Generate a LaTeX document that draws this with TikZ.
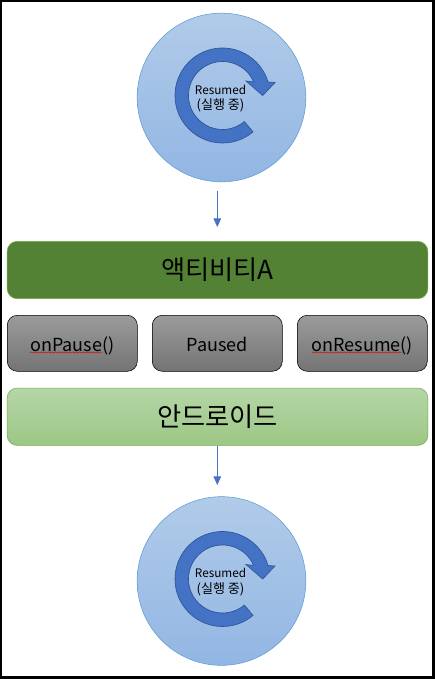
\documentclass[tikz,border=0pt]{standalone}
\usepackage{fontspec}
\setmainfont{Noto Sans CJK KR}
\usetikzlibrary{arrows.meta,decorations.pathmorphing}
\definecolor{skytop}{HTML}{B1CBE9}
\definecolor{skybot}{HTML}{92B6E3}
\definecolor{skyline}{HTML}{5B9BD5}
\definecolor{cyclefill}{HTML}{4472C4}
\definecolor{cycleline}{HTML}{2F5597}
\definecolor{actfill}{HTML}{548235}
\definecolor{droidtop}{HTML}{B5D6A7}
\definecolor{droidbot}{HTML}{9CC785}
\definecolor{droidline}{HTML}{70AD47}
\definecolor{greytop}{HTML}{9B9B9B}
\definecolor{greybot}{HTML}{747474}
\tikzset{
  stateball/.style={circle,draw=skyline,top color=skytop,bottom color=skybot,minimum size=126.5pt,inner sep=0pt},
  statetext/.style={align=center,inner sep=0pt,font=\fontsize{8.8pt}{11.6pt}\selectfont},
  cyclearrow/.style={fill=cyclefill,draw=cycleline,line width=.5pt},
  flow/.style={draw=cyclefill,line width=.75pt,-{Triangle[length=6.4pt,width=5.6pt]}},
  layerbox/.style={rounded corners=7.5pt,minimum width=315.5pt,minimum height=43pt,inner sep=0pt,font=\fontsize{19.7pt}{21pt}\selectfont},
  callbox/.style={rounded corners=7.5pt,draw=black,top color=greytop,bottom color=greybot,minimum width=97.5pt,minimum height=42pt,inner sep=0pt,text height=12pt,text depth=.4pt,font=\fontsize{13.5pt}{15pt}\selectfont},
  squiggle/.style={draw=red!85!black,line width=.35pt,decorate,decoration={snake,amplitude=.45pt,segment length=2.6pt}},
}
\begin{document}
\begin{tikzpicture}[x=0.75pt,y=0.75pt]
\useasboundingbox (0,0) rectangle (435,-679);
\fill[white] (0,0) rectangle (435,-679);
\draw[line width=1.7pt] (1.1,-1.1) rectangle (433.4,-677.6);
% the two state circles
\foreach \cy/\nm in {-97.5/ballA,-581/ballB}{
  \node[stateball] (\nm) at (221.5,\cy) {};
  \begin{scope}[shift={(222.5,\cy+2)}]
    \draw[cyclearrow] (-50:47.5) arc (-50:-343.5:47.5) -- (52.5,13) -- (40.2,0) -- (23.5,14.5) -- (-336.5:34) arc (-336.5:-50:34) -- cycle;
  \end{scope}
  \node[statetext] (\nm text) at (220.5,\cy-1) {Resumed\\{\fontsize{9.8pt}{11.6pt}\selectfont(실행 중)}};
}
% layers and callbacks
\node[layerbox,fill=actfill,draw=droidline] (activity) at (217.5,-270) {액티비티A};
\node[callbox] (pause) at (72.3,-343.3) {onPause()};
\node[callbox] (paused) at (217.3,-343.3) {Paused};
\node[callbox] (resume) at (362.3,-343.3) {onResume()};
\node[layerbox,draw=droidline,top color=droidtop,bottom color=droidbot] (android) at (217.5,-416.7) {안드로이드};
% spell check marks
\draw[squiggle] (30,-352.5) -- (102,-352.5);
\draw[squiggle] (312,-352.5) -- (402,-352.5);
% arrows
\coordinate (flowAstart) at (217.3,-191);
\coordinate (flowAend) at (217.3,-227);
\coordinate (flowBstart) at (217.3,-445.5);
\coordinate (flowBend) at (217.3,-485);
\draw[flow] (flowAstart) -- (flowAend);
\draw[flow] (flowBstart) -- (flowBend);
\end{tikzpicture}
\end{document}
